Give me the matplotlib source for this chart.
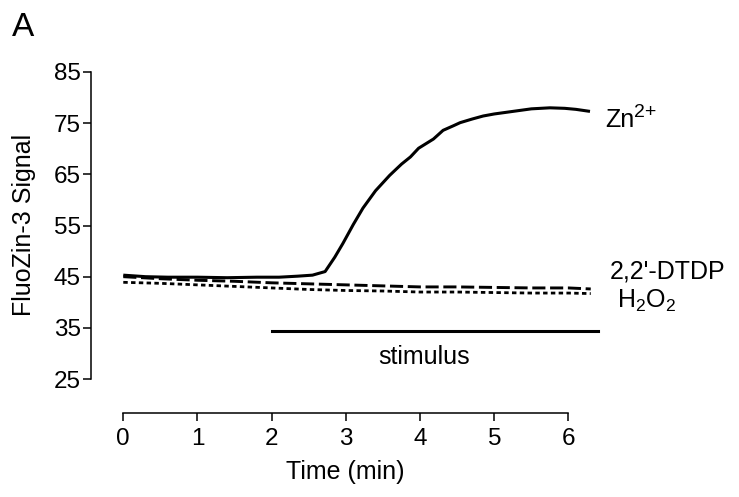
import matplotlib
matplotlib.use("Agg")
import matplotlib.pyplot as plt

plt.rcParams['font.family'] = ['Liberation Sans', 'DejaVu Sans']
plt.rcParams['mathtext.fontset'] = 'custom'
plt.rcParams['mathtext.rm'] = 'Liberation Sans'
plt.rcParams['mathtext.it'] = 'Liberation Sans:italic'

# FluoZin-3 traces
zn_time = [0.0, 0.3, 0.6, 1.0, 1.4, 1.8, 2.1, 2.35, 2.55, 2.72, 2.85, 2.96, 3.1, 3.23, 3.4,
           3.59, 3.75, 3.87, 3.98, 4.08, 4.18, 4.31, 4.45, 4.54, 4.7, 4.85, 5.0, 5.15, 5.3,
           5.5, 5.75, 5.95, 6.1, 6.29]
zn_signal = [45.3, 45.0, 44.9, 44.9, 44.8, 44.9, 44.9, 45.1, 45.3, 46.0, 48.8, 51.5, 55.2, 58.4, 61.8,
             64.8, 67.0, 68.4, 70.1, 71.0, 71.9, 73.6, 74.5, 75.1, 75.8, 76.4, 76.8, 77.1, 77.4,
             77.8, 78.0, 77.9, 77.7, 77.3]

dtdp_time = [0.0, 0.5, 1.0, 1.5, 2.0, 2.5, 3.0, 3.5, 4.0, 4.5, 5.0, 5.5, 6.0, 6.3]
dtdp_signal = [45.0, 44.6, 44.3, 44.1, 43.8, 43.6, 43.4, 43.2, 43.0, 43.0, 42.9, 42.8, 42.8, 42.6]

h2o2_time = [0.0, 0.5, 1.0, 1.5, 2.0, 2.5, 3.0, 3.5, 4.0, 4.5, 5.0, 5.5, 6.0, 6.3]
h2o2_signal = [43.9, 43.7, 43.4, 43.1, 42.8, 42.5, 42.3, 42.2, 42.0, 42.0, 41.9, 41.8, 41.8, 41.7]

stim_start, stim_end, stim_level = 2.0, 6.4, 34.3

x_ticks = [0, 1, 2, 3, 4, 5, 6]
y_ticks = [25, 35, 45, 55, 65, 75, 85]

fig = plt.figure(figsize=(7.39, 4.97), dpi=100)
ax = fig.add_axes([91 / 739, 1 - 413 / 497, (613 - 91) / 739, (413 - 72) / 497])

ax.plot(zn_time, zn_signal, color="black", lw=2.2, solid_capstyle="butt")
ax.plot(dtdp_time, dtdp_signal, color="black", lw=2.1, linestyle=(0, (4.5, 1.6)))
ax.plot(h2o2_time, h2o2_signal, color="black", lw=2.0, linestyle=(0, (1.6, 1.2)))
ax.plot([stim_start, stim_end], [stim_level, stim_level], color="black", lw=2.2)

ax.set_xlim(-0.435, 6.6)
ax.set_ylim(18.36, 85)

for s in ["top", "right"]:
    ax.spines[s].set_visible(False)
ax.spines["left"].set_bounds(25, 85)
ax.spines["bottom"].set_bounds(0, 6)
ax.spines["left"].set_linewidth(1.1)
ax.spines["bottom"].set_linewidth(1.1)

ax.set_xticks(x_ticks)
ax.set_yticks(y_ticks)
ax.tick_params(axis="both", length=6, width=1.1, labelsize=17.5)
ax.tick_params(axis="y", pad=1.5)
ax.tick_params(axis="x", pad=5)

ax.set_xlabel("Time (min)", fontsize=18)
ax.xaxis.set_label_coords((345 - 91) / 522, (413 - 472) / 341)
ax.xaxis.label.set_verticalalignment("center")
ax.set_ylabel("FluoZin-3 Signal", fontsize=18)
ax.yaxis.set_label_coords((24 - 91) / 522, (413 - 225) / 341)
ax.yaxis.label.set_verticalalignment("center")

zn = ax.text(6.49, 75.6, "Zn", fontsize=18, va="center", ha="left", clip_on=False)
ax.annotate("2+", xy=(1.0, 0.45), xycoords=zn, fontsize=14, va="bottom", ha="left")
ax.text(6.56, 46.0, "2,2'-DTDP", fontsize=18, va="center", ha="left", clip_on=False)
ax.text(6.65, 40.2, "H$_2$O$_2$", fontsize=18, va="center", ha="left", clip_on=False)
ax.text(4.06, 29.4, "stimulus", fontsize=18, va="center", ha="center")

fig.text(12 / 739, 1 - 36 / 497, "A", fontsize=24, ha="left", va="baseline")

fig.savefig("out.png", dpi=100)
